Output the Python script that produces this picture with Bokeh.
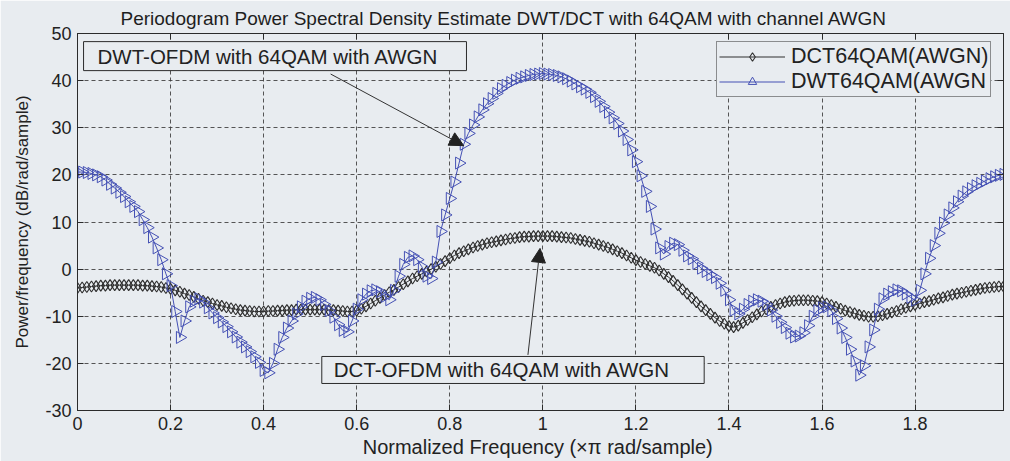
import numpy as np
from bokeh.plotting import figure
from bokeh.models import (Legend, LegendItem, Label, Arrow, NormalHead, LinearAxis,
                          FixedTicker, CustomJSTickFormatter, Range1d)
from bokeh.embed import file_html
from bokeh.resources import INLINE

# Normalized frequency grid (x pi rad/sample), 0 .. 1.99
freq = np.round(np.arange(200) * 0.01, 2)

# Periodogram PSD (dB/rad/sample) of the DCT-OFDM signal
dct_psd = [
    -4.0, -3.9, -3.8, -3.7, -3.6, -3.5, -3.5, -3.4, -3.4, -3.4,
    -3.4, -3.4, -3.4, -3.4, -3.5, -3.5, -3.6, -3.7, -3.8, -4.0,
    -4.2, -4.5, -4.8, -5.2, -5.5, -5.9, -6.3, -6.7, -7.0, -7.3,
    -7.6, -7.8, -8.1, -8.3, -8.5, -8.7, -8.8, -8.9, -9.0, -9.0,
    -9.0, -8.9, -8.9, -8.8, -8.8, -8.7, -8.7, -8.6, -8.6, -8.6,
    -8.6, -8.6, -8.6, -8.6, -8.7, -8.7, -8.8, -8.9, -9.0, -9.0,
    -8.8, -8.4, -7.9, -7.3, -6.7, -6.1, -5.5, -4.9, -4.4, -3.8,
    -3.2, -2.6, -2.0, -1.5, -1.0, -0.5, 0.0, 0.5, 1.1, 1.7,
    2.3, 2.9, 3.4, 3.8, 4.2, 4.6, 4.9, 5.2, 5.5, 5.7,
    5.9, 6.1, 6.3, 6.5, 6.6, 6.8, 6.9, 6.9, 7.0, 7.0,
    7.0, 7.0, 7.0, 6.9, 6.8, 6.7, 6.6, 6.4, 6.2, 6.0,
    5.8, 5.5, 5.2, 4.9, 4.6, 4.2, 3.8, 3.4, 2.9, 2.4,
    1.9, 1.5, 1.1, 0.7, 0.3, -0.3, -1.0, -1.7, -2.5, -3.4,
    -4.3, -5.2, -6.1, -7.0, -7.9, -8.7, -9.5, -10.3, -11.0, -11.6,
    -12.1, -12.3, -12.0, -11.4, -10.8, -10.2, -9.6, -9.0, -8.5, -8.0,
    -7.6, -7.3, -7.0, -6.8, -6.7, -6.6, -6.6, -6.6, -6.7, -6.8,
    -7.0, -7.3, -7.6, -8.0, -8.4, -8.8, -9.1, -9.4, -9.7, -9.9,
    -10.1, -10.1, -10.0, -9.8, -9.5, -9.2, -8.9, -8.5, -8.2, -7.9,
    -7.6, -7.3, -7.0, -6.8, -6.5, -6.2, -6.0, -5.7, -5.4, -5.2,
    -5.0, -4.8, -4.6, -4.4, -4.2, -4.0, -3.9, -3.8, -3.7, -3.7,
]

# Periodogram PSD (dB/rad/sample) of the DWT-OFDM signal
dwt_psd = [
    20.6, 20.6, 20.5, 20.3, 20.0, 19.6, 18.9, 18.0, 17.2, 16.3,
    15.4, 14.3, 13.3, 12.2, 10.5, 8.8, 6.8, 4.5, 2.0, -1.0,
    -3.5, -9.0, -14.5, -11.0, -8.0, -6.8, -6.3, -7.0, -8.2, -9.3,
    -10.3, -11.2, -12.2, -13.3, -14.4, -15.5, -16.5, -17.5, -18.6, -19.8,
    -21.5, -22.0, -20.0, -17.0, -14.5, -12.5, -11.0, -9.5, -8.0, -6.8,
    -6.2, -6.0, -6.5, -7.5, -8.8, -10.2, -11.8, -13.0, -13.3, -11.0,
    -8.5, -6.5, -5.3, -4.6, -4.4, -4.8, -5.8, -6.5, -4.5, -1.5,
    1.0, 2.5, 2.8, 2.0, 0.5, -1.5, -2.0, 1.5, 8.0, 11.5,
    15.0, 18.5, 22.5, 26.5, 28.8, 30.6, 32.3, 33.8, 35.1, 36.2,
    37.3, 38.3, 39.0, 39.6, 40.1, 40.5, 40.8, 41.1, 41.3, 41.4,
    41.5, 41.4, 41.3, 41.1, 40.8, 40.4, 39.9, 39.3, 38.7, 38.2,
    37.5, 36.6, 35.6, 34.5, 33.3, 32.1, 30.9, 29.3, 27.5, 25.3,
    22.8, 19.8, 16.5, 13.3, 8.5, 4.5, 3.2, 4.8, 5.5, 5.2,
    4.0, 2.8, 2.2, 1.2, 0.2, -0.5, -1.2, -1.8, -3.0, -4.5,
    -6.5, -8.7, -9.5, -8.5, -7.5, -6.8, -6.5, -6.8, -7.5, -8.7,
    -10.0, -11.3, -12.4, -13.6, -14.4, -14.2, -13.5, -12.0, -10.0, -8.8,
    -8.2, -8.0, -8.8, -10.5, -12.5, -14.5, -17.0, -19.5, -22.5, -20.5,
    -16.5, -12.9, -8.5, -6.3, -5.3, -4.8, -4.4, -4.6, -5.3, -6.0,
    -6.6, -4.5, -1.0, 2.3, 5.0, 7.6, 9.8, 11.5, 13.0, 14.3,
    15.5, 16.4, 17.1, 17.7, 18.2, 18.7, 19.2, 19.6, 19.9, 20.1,
]

x_ticks = [0, 0.2, 0.4, 0.6, 0.8, 1.0, 1.2, 1.4, 1.6, 1.8]
y_ticks = [-30, -20, -10, 0, 10, 20, 30, 40, 50]

FONT = "Liberation Sans"
BG = "#e8ecf0"
INK = "#2b2b2b"
DCT_COLOR = "#2e2e2e"
DWT_COLOR = "#4450b4"

p = figure(width=1010, height=461, output_backend="svg", toolbar_location=None,
           x_range=Range1d(0, 1.99), y_range=Range1d(-30, 50),
           min_border_left=77, min_border_right=7, min_border_top=33, min_border_bottom=51,
           background_fill_color=BG, border_fill_color=BG,
           outline_line_color=INK, outline_line_width=1,
           title="Periodogram Power Spectral Density Estimate DWT/DCT with 64QAM with channel AWGN")

p.title.text_font = FONT
p.title.text_font_size = "19px"
p.title.text_font_style = "normal"
p.title.text_color = "#1e1e1e"
p.title.align = "left"
p.title.offset = 43
p.title.standoff = 9

fmt_x = CustomJSTickFormatter(code="return String(Math.round(tick * 10) / 10);")
fmt_y = CustomJSTickFormatter(code="return tick.toFixed(0);")
fmt_none = CustomJSTickFormatter(code="return '';")

for ax in p.xaxis:
    ax.ticker = FixedTicker(ticks=x_ticks)
    ax.formatter = fmt_x
    ax.axis_label = "Normalized Frequency  (\u00d7\u03c0 rad/sample)"
    ax.axis_label_standoff = 3
    ax.major_label_standoff = 6
    ax.axis_label_text_font_size = "20px"
for ax in p.yaxis:
    ax.ticker = FixedTicker(ticks=y_ticks)
    ax.formatter = fmt_y
    ax.axis_label = "Power/frequency (dB/rad/sample)"
    ax.axis_label_standoff = 10
    ax.major_label_standoff = 6
    ax.axis_label_text_font_size = "17px"

for ax in list(p.xaxis) + list(p.yaxis):
    ax.major_label_text_font = FONT
    ax.major_label_text_font_size = "18px"
    ax.major_label_text_color = "#222222"
    ax.axis_label_text_font = FONT
    ax.axis_label_text_font_style = "normal"
    ax.axis_label_text_color = "#222222"
    ax.axis_line_color = INK
    ax.major_tick_line_color = INK
    ax.major_tick_in = 6
    ax.major_tick_out = 0
    ax.minor_tick_line_color = None

# Box-style frame: unlabeled tick marks on the top and right edges
top_axis = LinearAxis(ticker=FixedTicker(ticks=x_ticks), formatter=fmt_none,
                      major_label_text_color=None, major_label_standoff=0,
                      major_tick_in=6, major_tick_out=0, minor_tick_line_color=None,
                      axis_line_color=INK, major_tick_line_color=INK)
right_axis = LinearAxis(ticker=FixedTicker(ticks=y_ticks), formatter=fmt_none,
                        major_label_text_color=None, major_label_standoff=0,
                        major_tick_in=6, major_tick_out=0, minor_tick_line_color=None,
                        axis_line_color=INK, major_tick_line_color=INK)
p.add_layout(top_axis, "above")
p.add_layout(right_axis, "right")

p.xgrid.ticker = FixedTicker(ticks=x_ticks)
p.ygrid.ticker = FixedTicker(ticks=y_ticks)
for g in (p.xgrid, p.ygrid):
    g.grid_line_color = "#3a3a3a"
    g.grid_line_dash = "4 3"
    g.grid_line_width = 1
    g.grid_line_alpha = 0.85

dct_line = p.line(freq, dct_psd, line_color=DCT_COLOR, line_width=1)
dct_pts = p.scatter(freq, dct_psd, marker="diamond", size=11, fill_color=None,
                    line_color=DCT_COLOR, line_width=1.1)
dwt_line = p.line(freq, dwt_psd, line_color=DWT_COLOR, line_width=1)
dwt_pts = p.scatter(freq, dwt_psd, marker="triangle", angle=-np.pi / 2, size=12,
                    fill_color=None, line_color=DWT_COLOR, line_width=1)

legend = Legend(items=[LegendItem(label="DCT64QAM(AWGN)", renderers=[dct_line, dct_pts]),
                       LegendItem(label="DWT64QAM(AWGN", renderers=[dwt_line, dwt_pts])],
                location=(639, 313), orientation="vertical",
                label_text_font=FONT, label_text_font_size="21.5px", label_text_color="#222222",
                glyph_width=66, glyph_height=21, label_height=21, label_standoff=6,
                spacing=0, padding=2, margin=0,
                border_line_color=INK, border_line_width=1,
                background_fill_color=BG, background_fill_alpha=1)
p.add_layout(legend)

# Text boxes with arrows pointing at each curve
dwt_note = Label(x=0.013, y=45.2, text="DWT-OFDM with 64QAM with AWGN",
                 text_font=FONT, text_font_size="20.5px", text_color="#222222",
                 text_align="left", text_baseline="middle",
                 background_fill_color=BG, border_line_color=INK, border_line_width=1,
                 padding=(14, 28, 3, 3))
dct_note = Label(x=0.525, y=-21.4, text="DCT-OFDM with 64QAM with AWGN",
                 text_font=FONT, text_font_size="20.5px", text_color="#222222",
                 text_align="left", text_baseline="middle",
                 background_fill_color=BG, border_line_color=INK, border_line_width=1,
                 padding=(12, 34, 2, 2))
p.add_layout(dwt_note)
p.add_layout(dct_note)

p.add_layout(Arrow(end=NormalHead(size=14, fill_color="#222222", line_color="#222222"),
                   x_start=0.544, y_start=41.4, x_end=0.830, y_end=26.2,
                   line_color="#333333", line_width=1))
p.add_layout(Arrow(end=NormalHead(size=14, fill_color="#222222", line_color="#222222"),
                   x_start=0.968, y_start=-18.2, x_end=0.994, y_end=4.4,
                   line_color="#333333", line_width=1))

open("out.html", "w").write(file_html(p, INLINE))
